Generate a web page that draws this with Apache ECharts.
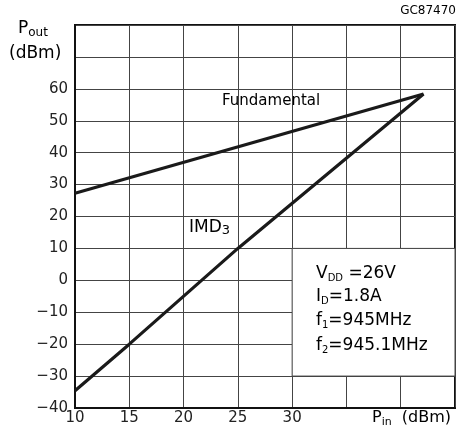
<!DOCTYPE html>
<html><head><meta charset="utf-8">
<script src="https://cdn.jsdelivr.net/npm/echarts@6/dist/echarts.min.js"></script>
<style>html,body{margin:0;padding:0;background:#fff}#c{width:468px;height:437px}</style>
</head><body><div id="c"></div>
<script>
// Data
const fundamentalPin = [10, 42.1];
const fundamentalPout = [27.3, 58.4];
const imd3Pin = [10, 15, 25, 42.1];
const imd3Pout = [-34.6, -20, 10, 58.4];
const xTickLabels = [10, 15, 20, 25, 30];
const yTickLabels = [-40, -30, -20, -10, 0, 10, 20, 30, 40, 50, 60];
const boxX = [30, 45];
const boxY = [-30, 10];

const FONT = 'DejaVu Sans';
const TXT = '#222';
const chart = echarts.init(document.getElementById('c'), null, {renderer: 'canvas'});
const pair = (xs, ys) => xs.map((x, i) => [x, ys[i]]);

function mk(size, sub) {
  return {
    m: {fontSize: size, fontFamily: FONT, color: TXT, lineHeight: 20},
    s: {fontSize: sub, fontFamily: FONT, color: TXT, lineHeight: 12, verticalAlign: 'bottom'}
  };
}
const txt = (left, top, text, size, sub, extra) =>
  Object.assign({type: 'text', left: left, top: top, z: 100, style: {text: text, rich: mk(size, sub || 10)}}, extra || {});

chart.setOption({
  animation: false,
  grid: {left: 75, right: 13, top: 25, bottom: 29, show: true, borderColor: '#111', borderWidth: 2, backgroundColor: 'transparent'},
  xAxis: {
    type: 'value', min: 10, max: 45, interval: 5,
    axisLine: {show: true, onZero: false, lineStyle: {color: '#111', width: 2}},
    axisTick: {show: false},
    splitLine: {show: true, lineStyle: {color: '#444', width: 1}},
    axisLabel: {
      margin: 3, fontSize: 15, fontFamily: FONT, color: TXT,
      formatter: v => xTickLabels.includes(v) ? String(v) : ''
    }
  },
  yAxis: {
    type: 'value', min: -40, max: 80, interval: 10,
    axisLine: {show: true, onZero: false, lineStyle: {color: '#111', width: 2}},
    axisTick: {show: false},
    splitLine: {show: true, lineStyle: {color: '#444', width: 1}},
    axisLabel: {
      margin: 7, fontSize: 15, fontFamily: FONT, color: TXT,
      formatter: v => yTickLabels.includes(v) ? (v < 0 ? '\u2212' + Math.abs(v) : String(v)) : ''
    }
  },
  series: [
    {
      type: 'line', name: 'Fundamental', data: pair(fundamentalPin, fundamentalPout),
      symbol: 'none', lineStyle: {color: '#1a1a1a', width: 3.2}, z: 5,
      markArea: {
        silent: true,
        itemStyle: {color: '#fff', borderColor: '#444', borderWidth: 1},
        data: [[{coord: [boxX[0], boxY[1]]}, {coord: [boxX[1], boxY[0]]}]]
      }
    },
    {
      type: 'line', name: 'IMD3', data: pair(imd3Pin, imd3Pout),
      symbol: 'none', lineStyle: {color: '#1a1a1a', width: 3.2}, z: 5
    }
  ],
  graphic: [
    txt(18, 20, '{m|P}{s|out}', 17, 12),
    txt(9, 45, '{m|(dBm)}', 17),
    {type: 'text', right: 12, top: 5, z: 100, style: {text: '{m|GC87470}', rich: mk(12, 10)}},
    txt(222, 94, '{m|Fundamental}', 15),
    txt(189, 219, '{m|IMD}{s|3}', 17, 13),
    txt(372, 410, '{m|P}{s|in}{m|  (dBm)}', 16, 11),
    txt(316, 265, '{m|V}{s|DD}{m| =26V}', 17, 10),
    txt(316, 288, '{m|I}{s|D}{m|=1.8A}', 17, 10),
    txt(316, 312, '{m|f}{s|1}{m|=945MHz}', 17, 10),
    txt(316, 337, '{m|f}{s|2}{m|=945.1MHz}', 17, 10)
  ]
});
</script></body></html>
